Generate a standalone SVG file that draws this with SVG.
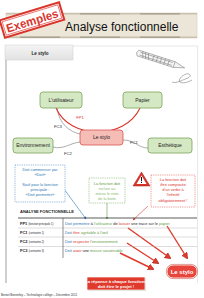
<svg xmlns="http://www.w3.org/2000/svg" width="204" height="298" viewBox="0 0 204 298">
<style>
text{font-family:"Liberation Sans",Arial,sans-serif}
.node rect{stroke-width:0.8}
.g{fill:#d5e8c4;stroke:#7aa35a}
.r{fill:#f6bdb7;stroke:#d9534f}
.nt{font-size:5px;text-anchor:middle;fill:#222}
.conn{fill:none;stroke:#777;stroke-width:0.6}
.lbl{font-size:4.2px;fill:#333;text-anchor:middle}
.note{font-size:3.9px;text-anchor:middle}
.row{font-size:3.9px;fill:#222}
.lab{font-size:4px;font-weight:bold;fill:#222}
.lab tspan.s{font-size:2.6px;font-weight:normal}
.bl{fill:#2e75b6}.gr{fill:#5f9e3f}.rd{fill:#d9342b}
.bigarrow{fill:none;stroke:#e03a2c;stroke-width:1.4;marker-end:url(#bigh)}
</style>
<defs>
<marker id="bigh" viewBox="0 0 10 10" refX="8" refY="5" markerWidth="4.5" markerHeight="4.5" orient="auto" markerUnits="strokeWidth">
<path d="M0,0 L10,5 L0,10 z" fill="#e03a2c" stroke="#a01f15" stroke-width="0.8"/>
</marker>
<marker id="hb" viewBox="0 0 10 10" refX="8" refY="5" markerWidth="5" markerHeight="5" orient="auto"><path d="M0,1 L10,5 L0,9 z" fill="#2e75b6"/></marker>
<marker id="hg" viewBox="0 0 10 10" refX="8" refY="5" markerWidth="5" markerHeight="5" orient="auto"><path d="M0,1 L10,5 L0,9 z" fill="#5f9e3f"/></marker>
<marker id="hr" viewBox="0 0 10 10" refX="8" refY="5" markerWidth="5" markerHeight="5" orient="auto"><path d="M0,1 L10,5 L0,9 z" fill="#d9342b"/></marker>
<linearGradient id="tab" x1="0" y1="0" x2="0" y2="1"><stop offset="0" stop-color="#f4f4f4"/><stop offset="1" stop-color="#e2e2e2"/></linearGradient>
</defs>
<rect width="204" height="298" fill="#ffffff"/>
<!-- title bar -->
<g id="title">
<rect x="6" y="13" width="191" height="25" fill="#ece6d9" stroke="#d6cebf" stroke-width="0.6"/>
<path d="M6,13.7 H197 M6,37.3 H197" stroke="#c9c0ae" stroke-width="1.4"/>
<path d="M20,13.7 H60 M80,13.7 H120 M140,13.7 H180 M20,37.3 H60 M80,37.3 H120 M140,37.3 H180" stroke="#aaa292" stroke-width="1.4"/>
<text x="65" y="31" font-size="12" fill="#111">Analyse fonctionnelle</text>
</g>
<g id="stamp" transform="rotate(-17 32 20)">
<rect x="1" y="11" width="62" height="18" fill="#ffffff" stroke="#d9342b" stroke-width="2"/>
<rect x="3" y="13" width="58" height="14" fill="none" stroke="#d9342b" stroke-width="0.6"/>
<text x="32" y="25" font-size="12" font-weight="bold" fill="#d9342b" text-anchor="middle" textLength="54" lengthAdjust="spacingAndGlyphs">Exemples</text>
</g>
<!-- panel -->
<g id="panel">
<path d="M73,46 H197.5 V283" fill="none" stroke="#d8d8d8" stroke-width="0.6"/>
<rect x="5" y="45" width="68" height="15" fill="url(#tab)" stroke="#cfcfcf" stroke-width="0.5"/>
<rect x="5" y="60" width="2" height="223" fill="#cfcfcf"/>
<text x="40" y="54.5" font-size="4.5" text-anchor="middle" font-weight="bold" fill="#222">Le stylo</text>
</g>
<!-- pen illustration -->
<g id="pen" fill="none" stroke="#777" stroke-width="0.5">
<g transform="translate(138 53) rotate(17.7)">
<path d="M0,-3 Q-3,0 0,3 L38,3 L47,0.5 L49,0 L47,-0.5 L38,-3 Z" fill="#f4f4f4"/>
<path d="M4,-3 L6,3 M7,-3 L9,3 M10,-3 L12,3 M16,-3 V3 M20,-3 V3 M24,-3 V3 M28,-3 V3 M32,-3 V3 M38,-3 V3 M2,-1.5 H36 M2,1.5 H36"/>
</g>
<path d="M172,82 C176,84 182,80 188,78 C192,76 190,73 186,74 C181,76 178,80 180,82 C183,84 188,82 192,80" stroke="#666"/>
</g>
<!-- connectors -->
<g id="connectors">
<path class="conn" d="M57,108 C59,124 70,132 80,134"/>
<path class="conn" d="M53,147 C63,150 70,143 80,142"/>
<path class="conn" d="M123,140 C135,140 138,148 148,148"/>
<path d="M56,108 C70,140 125,140 140,108" fill="none" stroke="#d9342b" stroke-width="1.1"/>
<text class="lbl" x="80" y="119" fill="#d9342b" style="fill:#d9342b">FP1</text>
<text class="lbl" x="58" y="128">FC3</text>
<text class="lbl" x="68" y="155">FC2</text>
<text class="lbl" x="134" y="144">FC1</text>
<path d="M64,189 L86,219" stroke="#2e75b6" stroke-width="0.6" fill="none" marker-end="url(#hb)"/>
<path d="M107,203 L107,219" stroke="#5f9e3f" stroke-width="0.6" fill="none" marker-end="url(#hg)"/>
<path d="M148,206 L133,220" stroke="#d9342b" stroke-width="0.6" fill="none" marker-end="url(#hr)"/>
<path class="bigarrow" d="M128,228 L170,258"/>
<path class="bigarrow" d="M167,226 L187,258"/>
<path class="bigarrow" d="M127,243 L158,263"/>
<path class="bigarrow" d="M120,253 L153,269"/>
</g>
<!-- nodes -->
<g id="n-utilisateur" class="node"><rect class="g" x="40" y="92" width="42" height="16" rx="3"/><text class="nt" x="61" y="101.8">L'utilisateur</text></g>
<g id="n-papier" class="node"><rect class="g" x="123" y="92" width="39" height="16" rx="3"/><text class="nt" x="142.5" y="101.8">Papier</text></g>
<g id="n-stylo" class="node"><rect class="r" x="80" y="130" width="43" height="15" rx="3"/><text class="nt" x="101.5" y="139.3">Le stylo</text></g>
<g id="n-env" class="node"><rect class="g" x="13" y="138" width="40" height="15" rx="3"/><text class="nt" x="33" y="147.3">Environnement</text></g>
<g id="n-esth" class="node"><rect class="g" x="148" y="138" width="44" height="15" rx="3"/><text class="nt" x="170" y="147.3">Esthétique</text></g>
<!-- notes -->
<g id="note-blue">
<rect x="15" y="165" width="50" height="37" fill="#fff" stroke="#2e75b6" stroke-width="0.5" stroke-dasharray="1,0.8"/>
<text class="note bl" x="40" y="171">Doit commencer par</text>
<text class="note bl" x="40" y="176">«Doit»</text>
<text class="note bl" x="40" y="186">Sauf pour la fonction</text>
<text class="note bl" x="40" y="191">principale :</text>
<text class="note bl" x="40" y="196">«Doit permettre»</text>
</g>
<g id="note-green">
<rect x="89" y="178" width="36" height="25" fill="#fff" stroke="#5f9e3f" stroke-width="0.5" stroke-dasharray="1,0.8"/>
<text class="note gr" x="107" y="184.5">La fonction doit</text>
<text class="note" x="107" y="189.5" fill="#8dbb6e">inclure au</text>
<text class="note" x="107" y="194.5" fill="#8dbb6e">mieux le nom</text>
<text class="note" x="107" y="199.5" fill="#8dbb6e">de la boite</text>
</g>
<g id="warning">
<path d="M141.5,172 L150,186 L133,186 Z" fill="#d9342b" stroke="#a01f15" stroke-width="0.5" stroke-linejoin="round"/>
<path d="M141.5,175.5 L146.5,184 L136.5,184 Z" fill="#fff"/>
<rect x="141" y="177" width="1" height="4.2" fill="#111"/>
<rect x="141" y="182" width="1" height="1" fill="#111"/>
</g>
<g id="note-red">
<rect x="151" y="175" width="44" height="32" fill="#fff" stroke="#d9342b" stroke-width="0.5" stroke-dasharray="1,0.8"/>
<text class="note rd" x="173" y="181">La fonction doit</text>
<text class="note rd" x="173" y="186">être composée</text>
<text class="note rd" x="173" y="191">d'un verbe à</text>
<text class="note rd" x="173" y="196">l'infinitif</text>
<text class="note rd" x="173" y="201.5">obligatoirement !</text>
</g>
<!-- table -->
<g id="table">
<text x="20" y="213" font-size="4" font-weight="bold" fill="#222">ANALYSE FONCTIONNELLE</text>
<path d="M18,218 H197" stroke="#333" stroke-width="0.8"/>
<path d="M18,228 H197 M18,237 H197 M18,246.5 H197" stroke="#aaa" stroke-width="0.4"/>
<path d="M63,218 V258" stroke="#444" stroke-width="0.6"/>
<text class="lab" x="20" y="224.5">FP1 <tspan class="s">(fonction principale 1)</tspan></text>
<text class="lab" x="20" y="233.5">FC1 <tspan class="s">(contrainte 1)</tspan></text>
<text class="lab" x="20" y="242.5">FC2 <tspan class="s">(contrainte 2)</tspan></text>
<text class="lab" x="20" y="252">FC3 <tspan class="s">(contrainte 3)</tspan></text>
<text class="row" x="65" y="224.5"><tspan class="bl">Doit permettre</tspan> à <tspan class="gr">l'utilisateur</tspan> de <tspan class="rd">laisser</tspan> une trace sur le <tspan class="gr">papier</tspan></text>
<text class="row" x="65" y="233.5"><tspan class="bl">Doit</tspan> <tspan class="rd">être</tspan> <tspan class="gr">agréable à l'oeil</tspan></text>
<text class="row" x="65" y="242.5"><tspan class="bl">Doit</tspan> <tspan class="rd">respecter</tspan> <tspan class="gr">l'environnement</tspan></text>
<text class="row" x="65" y="252"><tspan class="bl">Doit</tspan> <tspan class="rd">avoir</tspan> une <tspan class="gr">masse raisonnable</tspan></text>
</g>
<g id="stylo-final">
<rect x="167" y="265" width="30" height="13" rx="6" fill="#e8453c" stroke="#fff" stroke-width="0.8"/>
<rect x="166.4" y="264.4" width="31.2" height="14.2" rx="6.5" fill="none" stroke="#c0392b" stroke-width="0.5"/>
<text x="182" y="273.6" font-size="6" font-weight="bold" fill="#fff" text-anchor="middle">Le stylo</text>
</g>
<g id="reponse">
<rect x="88" y="278" width="58" height="13" fill="#b0b0b0" opacity="0.5"/>
<rect x="87" y="277" width="58" height="13" fill="#e03a2c" stroke="#fff" stroke-width="0.7"/>
<text x="116" y="282.6" font-size="4.2" font-weight="bold" fill="#fff" text-anchor="middle">La réponse à chaque fonctions</text>
<text x="116" y="287.8" font-size="4.2" font-weight="bold" fill="#fff" text-anchor="middle">doit être le projet !</text>
</g>
<text x="1" y="296" font-size="3" fill="#333">Benoit Bonnefoy – Technologie collège – Décembre 2011</text>
</svg>
